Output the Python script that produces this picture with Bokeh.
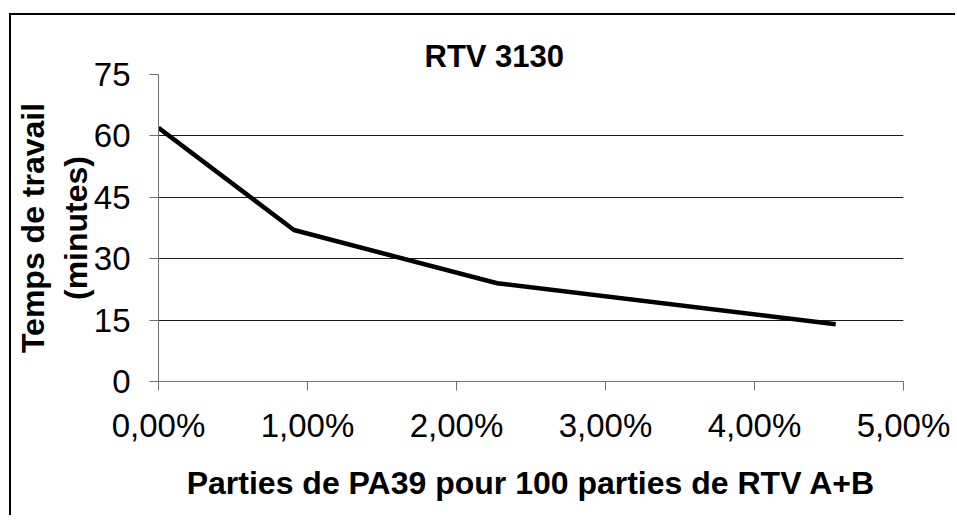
from bokeh.plotting import figure
from bokeh.models import CustomJSTickFormatter, FixedTicker, ColumnDataSource
from bokeh.embed import file_html
from bokeh.resources import INLINE

# Data
pa39_parts = [0.0, 0.00909, 0.02273, 0.04545]   # parts of PA39 per 100 parts RTV A+B (fraction)
work_time = [62, 37, 24, 14]                    # minutes
x_ticks = [0.0, 0.01, 0.02, 0.03, 0.04, 0.05]
y_ticks = [0, 15, 30, 45, 60, 75]

FONT = "Liberation Sans"

p = figure(width=946, height=502, x_range=(0, 0.05), y_range=(0, 75),
           output_backend="svg", toolbar_location=None,
           min_border_left=147, min_border_right=54,
           min_border_top=59, min_border_bottom=136)
p.styles = {"margin-left": "9px", "margin-top": "13px",
            "border-top": "2px solid black", "border-left": "2px solid black"}

p.outline_line_color = None
p.background_fill_color = "white"
p.border_fill_color = "white"

src = ColumnDataSource(dict(x=pa39_parts, y=work_time))
p.line("x", "y", source=src, line_color="black", line_width=4.5)

p.title.text = "RTV 3130"
p.title.text_font = FONT
p.title.text_font_size = "31px"
p.title.text_font_style = "bold"
p.title.text_color = "black"
p.title.align = "left"
p.title.offset = 266
p.title.standoff = 1

# grid
p.xgrid.grid_line_color = None
p.ygrid.ticker = FixedTicker(ticks=y_ticks)
p.ygrid.grid_line_color = "#1a1a1a"
p.ygrid.grid_line_width = 1

# x axis
xa = p.xaxis[0]
xa.ticker = FixedTicker(ticks=x_ticks)
xa.formatter = CustomJSTickFormatter(code="return (tick*100).toFixed(2).replace('.', ',') + '%';")
xa.axis_label = "Parties de PA39 pour 100 parties de RTV A+B"
xa.axis_label_text_font = FONT
xa.axis_label_text_font_size = "32px"
xa.axis_label_text_font_style = "bold"
xa.axis_label_text_color = "black"
xa.axis_label_standoff = 18
xa.major_label_text_font = FONT
xa.major_label_text_font_size = "33px"
xa.major_label_text_color = "black"
xa.major_label_standoff = 16
xa.major_tick_in = 0
xa.major_tick_out = 9
xa.minor_tick_line_color = None
xa.axis_line_color = "#707070"
xa.major_tick_line_color = "#707070"

# y axis
ya = p.yaxis[0]
ya.ticker = FixedTicker(ticks=y_ticks)
ya.axis_label = "Temps de travail\n(minutes)"
ya.axis_label_text_font = FONT
ya.axis_label_text_font_size = "32px"
ya.axis_label_text_font_style = "bold"
ya.axis_label_text_color = "black"
ya.axis_label_standoff = -3
ya.major_label_text_font = FONT
ya.major_label_text_font_size = "33px"
ya.major_label_text_color = "black"
ya.major_label_standoff = 19
ya.major_tick_in = 0
ya.major_tick_out = 9
ya.minor_tick_line_color = None
ya.axis_line_color = "#707070"
ya.major_tick_line_color = "#707070"

open("out.html", "w").write(file_html(p, INLINE))
